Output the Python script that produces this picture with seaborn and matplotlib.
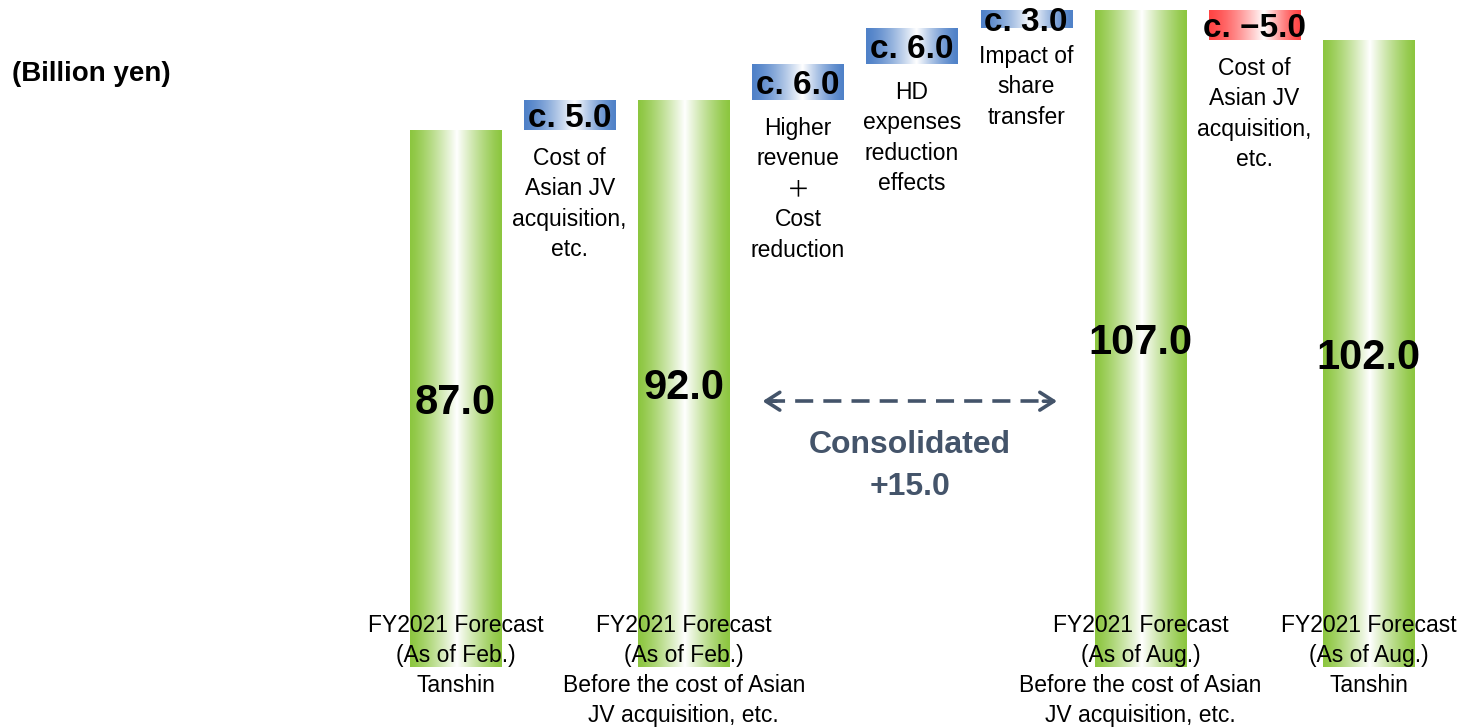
import numpy as np
import pandas as pd
import matplotlib
matplotlib.use("Agg")
import matplotlib.pyplot as plt
import matplotlib.colors as mcolors
import seaborn as sns

# ---- data ----
stage_pos = [0, 1, 3, 4]
stage_values = [87.0, 92.0, 107.0, 102.0]
stage_labels = [
    "FY2021 Forecast\n(As of Feb.)\nTanshin",
    "FY2021 Forecast\n(As of Feb.)\nBefore the cost of Asian\nJV acquisition, etc.",
    "FY2021 Forecast\n(As of Aug.)\nBefore the cost of Asian\nJV acquisition, etc.",
    "FY2021 Forecast\n(As of Aug.)\nTanshin",
]

delta_pos = [0.5, 1.5, 2.0, 2.5, 3.5]
delta_values = [5.0, 6.0, 6.0, 3.0, -5.0]
delta_labels = [
    "Cost of\nAsian JV\nacquisition,\netc.",
    "Higher\nrevenue\n\uff0b\nCost\nreduction",
    "HD\nexpenses\nreduction\neffects",
    "Impact of\nshare\ntransfer",
    "Cost of\nAsian JV\nacquisition,\netc.",
]
unit_label = "(Billion yen)"

# starts of the bridge steps: the first one leaves from the Feb. Tanshin bar,
# the last one from the Aug. bar before the JV cost
delta_start = [stage_values[0]]
for v in delta_values[:3]:
    delta_start.append(delta_start[-1] + v)
delta_start.append(stage_values[2])
consolidated = stage_values[2] - stage_values[1]

BASE = -2.5          # bars run a bit below zero, behind the labels
GREEN = "#8cc63f"
BLUE = "#4f81c8"
RED = "#ff4545"
SLATE = "#44546a"

sns.set_style("white")
plt.rcParams["font.family"] = ["Liberation Sans", "Noto Sans CJK JP", "DejaVu Sans"]
plt.rcParams["text.color"] = "black"


def h_gradient(edge, peak=0.5, power=2.0, n=256):
    t = np.linspace(0, 1, n)
    d = np.where(t < peak, (peak - t) / peak, (t - peak) / (1 - peak))
    w = (1 - d) ** power
    c = np.array(mcolors.to_rgb(edge))
    rgb = c[None, :] * (1 - w[:, None]) + w[:, None]
    return rgb[None, :, :]


def paint(ax, patch, grad):
    x0, y0 = patch.get_x(), patch.get_y()
    x1, y1 = x0 + patch.get_width(), y0 + patch.get_height()
    ax.imshow(grad, extent=[x0, x1, min(y0, y1), max(y0, y1)],
              aspect="auto", interpolation="bilinear", zorder=2)


fig = plt.figure(figsize=(14.63, 7.28), dpi=100)
ax = fig.add_axes([0, 0, 1, 1])

df = pd.DataFrame({"pos": stage_pos, "value": stage_values})
sns.barplot(data=df, x="pos", y="value", native_scale=True, width=0.4,
            color=GREEN, linewidth=0, errorbar=None, ax=ax)

main_bars = list(ax.patches)
for p, v in zip(main_bars, stage_values):
    p.set_y(BASE)
    p.set_height(v - BASE)
    paint(ax, p, h_gradient(GREEN, peak=0.51, power=1.25))

step_bars = ax.bar(delta_pos, delta_values, bottom=delta_start, width=0.4,
                   color=[BLUE if v > 0 else RED for v in delta_values],
                   linewidth=0, zorder=1)
for p, v in zip(step_bars, delta_values):
    if v > 0:
        paint(ax, p, h_gradient(BLUE, peak=0.55, power=1.4))
    else:
        paint(ax, p, h_gradient(RED, peak=0.6, power=1.4))

# value labels in the bars
for x, v in zip(stage_pos, stage_values):
    ax.text(x, (v + BASE) / 2 - 0.8, f"{v:.1f}", ha="center", va="center",
            fontsize=30, fontweight="bold", zorder=5)

# category labels under the bars
for x, lab in zip(stage_pos, stage_labels):
    ax.text(x, 6.3, lab, ha="center", va="top", fontsize=16.5,
            linespacing=1.38, zorder=5)

# step amounts and descriptions
for x, s, v, lab in zip(delta_pos, delta_start, delta_values, delta_labels):
    ax.text(x, s + v / 2 - 0.5, f"c. {v:.1f}".replace("-", "\u2212"),
            ha="center", va="center", fontsize=24, fontweight="bold",
            zorder=5)
    ax.text(x, min(s, s + v) - 2.8, lab, ha="center", va="top",
            fontsize=16.5, linespacing=1.42, zorder=5)

# consolidated change arrow
y_arr = 41.8
xa, xb = 1.345, 2.635
ax.plot([xa + 0.02, xb - 0.02], [y_arr, y_arr], color=SLATE, lw=2.6,
        ls=(0, (5.0, 2.8)), zorder=4)
for tip, tail in [(xa, xa + 0.06), (xb, xb - 0.06)]:
    ax.annotate("", xy=(tip, y_arr), xytext=(tail, y_arr),
                arrowprops=dict(arrowstyle="->,head_length=0.5,head_width=0.32",
                                color=SLATE, lw=2.6, shrinkA=0, shrinkB=0,
                                mutation_scale=20), zorder=4)
ax.text((xa + xb) / 2, 31.0, f"Consolidated\n+{consolidated:.1f}",
        ha="center", va="center", fontsize=23, fontweight="bold",
        color=SLATE, linespacing=1.55, zorder=5)

fig.text(12 / 1463, 1 - 74 / 728, unit_label, ha="left", va="center",
         fontsize=20, fontweight="bold")

ax.set_xlim(-455.5 / 228.3, (1463 - 455.5) / 228.3)
ax.set_ylim(-12.67, 108.67)
ax.axis("off")

fig.savefig("out.png", dpi=100)
